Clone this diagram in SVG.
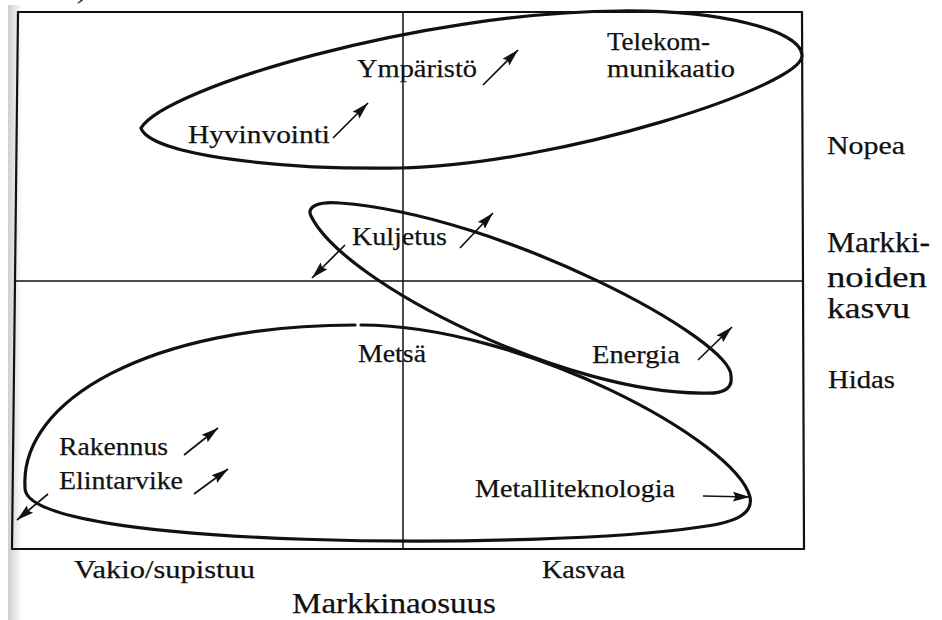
<svg xmlns="http://www.w3.org/2000/svg" width="942" height="620" viewBox="0 0 942 620">
  <defs>
    <linearGradient id="edge" x1="0" y1="0" x2="1" y2="0">
      <stop offset="0" stop-color="#cfcfcf"/>
      <stop offset="1" stop-color="#ffffff"/>
    </linearGradient>
    <marker id="ah" markerWidth="18" markerHeight="12" refX="17" refY="6" orient="auto" markerUnits="userSpaceOnUse">
      <path d="M0,1.2 L17,6 L0,10.8 L2.5,6 z" fill="#111"/>
    </marker>
    <style>
      .t { font-family: "Liberation Serif", "Times New Roman", serif; font-size: 26px; fill: #111; stroke: #111; stroke-width: 0.25; }
      .big { font-size: 30px; }
      .frame { fill: none; stroke: #111; stroke-width: 2.2; }
      .axis { fill: none; stroke: #111; stroke-width: 1.5; }
      .loop { fill: none; stroke: #111; stroke-width: 3.2; stroke-linecap: round; }
      .arr { fill: none; stroke: #111; stroke-width: 1.7; marker-end: url(#ah); }
    </style>
  </defs>

  <rect x="0" y="0" width="942" height="620" fill="#ffffff"/>
  <rect x="8" y="5" width="14" height="615" fill="url(#edge)"/>
  <text class="t" x="79" y="-2" font-style="italic">)</text>

  <g id="frame">
    <path class="frame" d="M18,12 L802,12 L804,549 L12,549 Z"/>
    <line class="axis" x1="403" y1="12" x2="403" y2="549"/>
    <line class="axis" x1="15" y1="281" x2="803" y2="281"/>
  </g>

  <g id="axis-labels">
    <text class="t" x="827" y="154" textLength="78" lengthAdjust="spacingAndGlyphs">Nopea</text>
    <text class="t big" x="827" y="252" textLength="103" lengthAdjust="spacingAndGlyphs">Markki-</text>
    <text class="t big" x="827" y="287" textLength="100" lengthAdjust="spacingAndGlyphs">noiden</text>
    <text class="t big" x="827" y="318" textLength="83" lengthAdjust="spacingAndGlyphs">kasvu</text>
    <text class="t" x="828" y="388" textLength="67" lengthAdjust="spacingAndGlyphs">Hidas</text>
    <text class="t" x="74" y="578" textLength="181" lengthAdjust="spacingAndGlyphs">Vakio/supistuu</text>
    <text class="t" x="542" y="578" textLength="83" lengthAdjust="spacingAndGlyphs">Kasvaa</text>
    <text class="t big" x="292" y="613" textLength="204" lengthAdjust="spacingAndGlyphs">Markkinaosuus</text>
  </g>

  <g id="cluster-fast">
    <path class="loop" d="M141,128 C165,88 420,12 620,11 C720,10 800,30 802,55 C806,85 560,165 400,168 C280,170 150,155 141,128 Z"/>
    <text class="t" x="607" y="50" font-size="25" textLength="103" lengthAdjust="spacingAndGlyphs">Telekom-</text>
    <text class="t" x="607" y="77" font-size="25" textLength="128" lengthAdjust="spacingAndGlyphs">munikaatio</text>
    <text class="t" x="357" y="77" textLength="120" lengthAdjust="spacingAndGlyphs">Ympäristö</text>
    <text class="t" x="188" y="143" textLength="142" lengthAdjust="spacingAndGlyphs">Hyvinvointi</text>
  </g>

  <g id="cluster-mid">
    <path class="loop" d="M311,216 C306,206 320,201 340,203 C500,215 735,340 731,377 C733,390 720,394 705,393 C570,395 345,285 311,216 Z"/>
    <text class="t" x="352" y="245" textLength="95" lengthAdjust="spacingAndGlyphs">Kuljetus</text>
    <text class="t" x="592" y="363" textLength="88" lengthAdjust="spacingAndGlyphs">Energia</text>
  </g>

  <g id="cluster-slow">
    <path class="loop" d="M361,325 C520,325 735,440 750,497 C753,512 740,522 700,527 C550,550 20,550 25,487 C20,400 150,325 355,325"/>
    <text class="t" x="358" y="362" textLength="68" lengthAdjust="spacingAndGlyphs">Metsä</text>
    <text class="t" x="59" y="455" textLength="109" lengthAdjust="spacingAndGlyphs">Rakennus</text>
    <text class="t" x="59" y="489" textLength="124" lengthAdjust="spacingAndGlyphs">Elintarvike</text>
    <text class="t" x="475" y="497" textLength="200" lengthAdjust="spacingAndGlyphs">Metalliteknologia</text>
  </g>

  <g id="connectors">
    <line class="arr" x1="333" y1="138" x2="368" y2="103"/>
    <line class="arr" x1="483" y1="85" x2="518" y2="50"/>
    <line class="arr" x1="345" y1="245" x2="312" y2="278"/>
    <line class="arr" x1="460" y1="248" x2="493" y2="213"/>
    <line class="arr" x1="698" y1="360" x2="732" y2="327"/>
    <line class="arr" x1="184" y1="455" x2="218" y2="428"/>
    <line class="arr" x1="194" y1="494" x2="228" y2="469"/>
    <line class="arr" x1="48" y1="494" x2="17" y2="520"/>
    <line class="arr" x1="703" y1="496" x2="750" y2="497"/>
  </g>
</svg>
